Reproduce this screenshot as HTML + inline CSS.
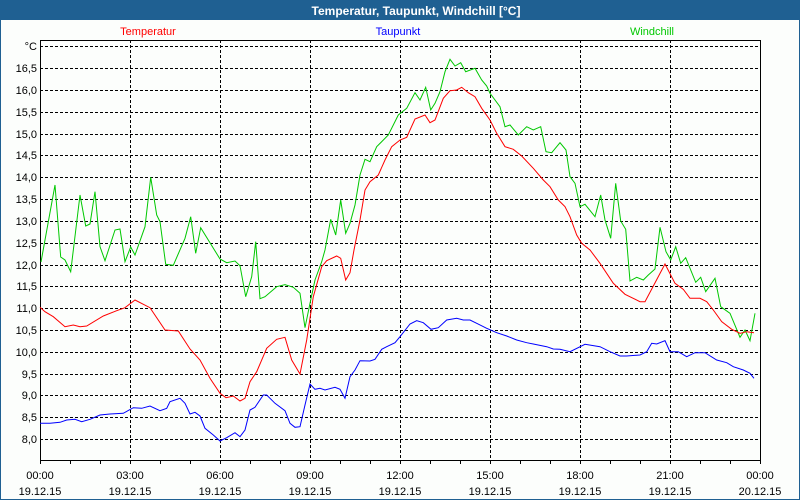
<!DOCTYPE html>
<html><head><meta charset="utf-8"><style>
html,body{margin:0;padding:0;background:#fff;}
svg{display:block;}
text{font-family:"Liberation Sans",Arial,sans-serif;}
</style></head><body>
<svg width="800" height="500" viewBox="0 0 800 500" xmlns="http://www.w3.org/2000/svg">
<rect x="0" y="0" width="800" height="500" fill="#1f6092"/>
<rect x="1" y="20" width="798" height="479" fill="#fcfefc"/>
<text x="416" y="15" font-size="12" font-weight="bold" fill="#fff" text-anchor="middle">Temperatur, Taupunkt, Windchill [°C]</text>
<text x="148" y="35" font-size="11" fill="#ff0000" text-anchor="middle">Temperatur</text>
<text x="398" y="35" font-size="11" fill="#0000ff" text-anchor="middle">Taupunkt</text>
<text x="652" y="35" font-size="11" fill="#00c800" text-anchor="middle">Windchill</text>
<g stroke="#000" stroke-width="1" stroke-dasharray="3,2" shape-rendering="crispEdges" fill="none">
<path d="M40 46.5H760M40 68.5H760M40 90.5H760M40 112.5H760M40 134.5H760M40 155.5H760M40 177.5H760M40 199.5H760M40 221.5H760M40 243.5H760M40 265.5H760M40 286.5H760M40 308.5H760M40 330.5H760M40 352.5H760M40 374.5H760M40 395.5H760M40 417.5H760M40 439.5H760"/>
<path d="M130.5 40V460M220.5 40V460M310.5 40V460M400.5 40V460M490.5 40V460M580.5 40V460M670.5 40V460"/>
</g>
<g stroke="#000" stroke-width="1" shape-rendering="crispEdges" fill="none">
<rect x="40.5" y="40.5" width="720" height="420"/>
<path d="M40.5 460V464M70.5 460V464M100.5 460V464M130.5 460V464M160.5 460V464M190.5 460V464M220.5 460V464M250.5 460V464M280.5 460V464M310.5 460V464M340.5 460V464M370.5 460V464M400.5 460V464M430.5 460V464M460.5 460V464M490.5 460V464M520.5 460V464M550.5 460V464M580.5 460V464M610.5 460V464M640.5 460V464M670.5 460V464M700.5 460V464M730.5 460V464M760.5 460V464"/>
</g>
<g font-size="11" fill="#000" text-anchor="end">
<text x="37" y="50">°C</text>
<text x="37" y="72">16,5</text>
<text x="37" y="94">16,0</text>
<text x="37" y="116">15,5</text>
<text x="37" y="138">15,0</text>
<text x="37" y="159">14,5</text>
<text x="37" y="181">14,0</text>
<text x="37" y="203">13,5</text>
<text x="37" y="225">13,0</text>
<text x="37" y="247">12,5</text>
<text x="37" y="269">12,0</text>
<text x="37" y="290">11,5</text>
<text x="37" y="312">11,0</text>
<text x="37" y="334">10,5</text>
<text x="37" y="356">10,0</text>
<text x="37" y="378">9,5</text>
<text x="37" y="399">9,0</text>
<text x="37" y="421">8,5</text>
<text x="37" y="443">8,0</text>
</g>
<g font-size="11" fill="#000" text-anchor="middle">
<text x="40" y="479">00:00</text><text x="40" y="495">19.12.15</text>
<text x="130" y="479">03:00</text><text x="130" y="495">19.12.15</text>
<text x="220" y="479">06:00</text><text x="220" y="495">19.12.15</text>
<text x="310" y="479">09:00</text><text x="310" y="495">19.12.15</text>
<text x="400" y="479">12:00</text><text x="400" y="495">19.12.15</text>
<text x="490" y="479">15:00</text><text x="490" y="495">19.12.15</text>
<text x="580" y="479">18:00</text><text x="580" y="495">19.12.15</text>
<text x="670" y="479">21:00</text><text x="670" y="495">19.12.15</text>
<text x="760" y="479">00:00</text><text x="760" y="495">20.12.15</text>
</g>
<g fill="none" stroke-width="1">
<polyline stroke="#00c800" points="41,262 55,185 60.7,257 65,260 70.7,271.7 80,195 85.7,226 90,224 95,191.7 100,246.7 105,260.7 115,230 120,229 125,261.7 130.7,247 135,255 145,226.7 150.7,177.3 156.7,215 160,221.7 165.7,264.3 173.3,265.3 185,238.3 190.7,216.7 195.7,253.3 200.7,227.7 220,259 226.7,262.7 235,261 240,265.7 245.7,296.7 251.7,276.7 255.7,241.7 260,298.7 265,296.7 276.7,286.7 285,284.7 293.3,287.3 300,293.3 305,327.7 310,303.3 315,280 321.7,261.7 325,250 330.7,219.3 335.7,235 340.7,200 345.7,233.3 350,223.3 355,205 360,175 365,159.3 370,161.7 376.7,146.7 388.3,135 398.3,115 406.7,108.3 415,92.7 420,100 425.7,87.3 430.7,110 435,103.3 440,91.7 445,71.7 450,59.3 455,66 460.7,62.7 465.7,71.7 475,68.3 481.7,80 486.7,86 490,93.3 500,106.7 505,126.7 510,125 518.3,135 526.7,126.7 533.3,130 540.7,126.7 546,151.7 551.7,152.7 560,142.7 566,150 570,176.7 575,183.3 580,206.7 585,204.3 595,216.7 600.7,195 605,220 610.7,238.3 615.7,183.3 620.7,221 625.7,229.3 630,281 636.7,277.3 643.3,280 648.3,275 655,269 660,227.3 666,251.7 670.7,260 675.7,246.7 680.7,263.3 685.7,257.7 695.7,282.3 700.7,277.3 705.7,291.7 715,278.3 720.7,306.7 730,313.3 740,337.3 745,330 750,340.7 755,313.3"/>
<polyline stroke="#ff0000" points="40,307.3 45,311.7 53.3,316.7 65,326.7 73.3,325 80,326.7 86.7,326 103.3,316 116.7,310.7 125,307.7 135,300 150,307.7 165,330 178.3,331 190,349 200,360 210,378.3 220,393.3 226,397.7 233.3,396 240,401 245,398.3 250,381.7 256.7,371.7 266.7,348.3 276.7,339.3 285,337.3 291.7,360 300,374 306.7,340 313.3,296.7 321.7,266.7 326.7,260.7 336.7,256 340.7,258.3 345.7,280 350,272.7 354,250 360,220 365,190 370,181.7 378.3,175 385,160 391.7,146.7 400,140 406.7,137.3 415,119 425,115 430,122.7 435,120 443.3,98.3 450,90.7 456.7,90 461.7,87.3 468.3,92.7 475,96.7 481.7,108.3 490,120 496.7,133.3 505,146.7 513.3,149.3 521.7,156 533.3,168.3 543.3,180 550,186.7 558.3,200 565,206.7 570,216.7 576.7,235 581.7,243.3 590,250 600,263.3 613.3,283.3 625,294.3 640,301.7 645,301.7 665,264 675,283.3 683.3,289.3 690,298.3 700,298.3 706.7,301.7 713.3,310 721.7,321.7 731.7,329.3 740,333.3 746.7,331.7 754,332.7"/>
<polyline stroke="#0000ff" points="40,423.3 50,423.3 60,422.3 66.7,420 75,419.3 81.7,421.7 90,419.3 100,415 110,414 123.3,413.3 133.3,407.7 141.7,408.3 150,406 160,410.7 166.7,408.3 170,401.7 180,398.3 185,403.3 190,414 195,412.3 200,416 205,428.3 213.3,435 220,441 226.7,437.7 235,432.7 240,436.7 245,430 250,410 255,407.3 263.3,395 266.7,395 275,403.3 285,410.7 290,423.3 295,427.3 300,426.7 305,405 310,384 315,389.3 320,388.3 325,390 335,387.3 340,389.3 345,398.3 350,376.7 355,370 360,360.7 370,361 375,359.3 381.7,349.3 386.7,346.7 395,342.7 400,336.7 410,324 416.7,320.7 423.3,322.7 431,329.3 438.3,327.7 446.7,320 456.7,318.3 463.3,320 470,320 476.7,323.3 486.7,328.3 496.7,332.7 506.7,336 516.7,340 526.7,342.7 533.3,344 546.7,346.7 553.3,349 560,349.3 570,351.7 585,344.3 600,346.7 610,351.7 620,356 626.7,356 640,355 646.7,351.7 651.7,343.3 656.7,344 665,340.7 670,351.7 678.3,351.7 686.7,356.7 695,352.7 705,352.7 716.7,360 726.7,362.7 733.3,366.7 743.3,370 750,373.3 754,378.3"/>
</g>
</svg>
</body></html>
